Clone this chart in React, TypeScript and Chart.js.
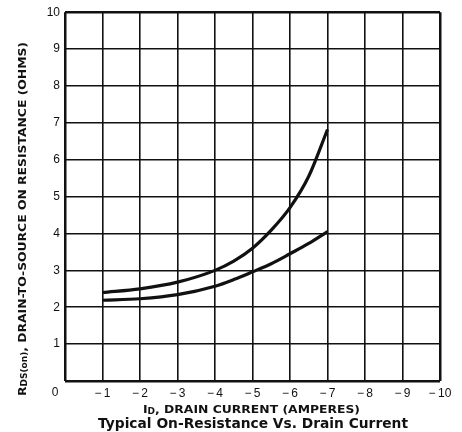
import React, { useEffect, useRef } from "react";
import { Chart, registerables } from "chart.js";

Chart.register(...registerables);

// Drain current (A)
const drainCurrent = [-1, -2, -3, -4, -4.5, -5, -5.5, -6, -6.5, -7];
// Upper curve RDS(on) (ohms)
const upperCurve = [2.4, 2.5, 2.68, 3.0, 3.25, 3.6, 4.09, 4.7, 5.55, 6.82];
// Lower curve RDS(on) (ohms)
const lowerCurve = [2.19, 2.23, 2.34, 2.57, 2.75, 2.96, 3.18, 3.45, 3.73, 4.05];

const xTickValues = [0, -1, -2, -3, -4, -5, -6, -7, -8, -9, -10];
const yTickValues = [0, 1, 2, 3, 4, 5, 6, 7, 8, 9, 10];

const xTitleMain = "I";
const xTitleSub = "D";
const xTitleRest = ", DRAIN CURRENT (AMPERES)";
const yTitleMain = "R";
const yTitleSub = "DS(on)";
const yTitleRest = ", DRAIN-TO-SOURCE ON RESISTANCE (OHMS)";
const chartTitle = "Typical On-Resistance Vs. Drain Current";

const FONT = "'Liberation Sans', Arial, Helvetica, sans-serif";
const TFONT = "'DejaVu Sans', 'Liberation Sans', sans-serif";
const INK = "#111";

function fmtTick(v: number): string {
  if (v === 0) return "";
  return v < 0 ? "\u2212\u2009" + Math.abs(v) : String(v);
}

function fitText(ctx: CanvasRenderingContext2D, text: string, width: number, x: number, y: number) {
  const w = ctx.measureText(text).width;
  ctx.save();
  ctx.translate(x, y);
  ctx.scale(width / w, 1);
  ctx.fillText(text, 0, 0);
  ctx.restore();
}

// Draws main + subscript + rest, stretched to the given length, starting at (0,0) of current transform
function drawSubTitle(
  ctx: CanvasRenderingContext2D,
  main: string,
  sub: string,
  rest: string,
  big: string,
  small: string,
  length: number
) {
  ctx.font = big;
  const a = ctx.measureText(main).width;
  const c = ctx.measureText(rest).width;
  ctx.font = small;
  const b = ctx.measureText(sub).width;
  const total = a + b + c;
  ctx.save();
  ctx.scale(length / total, 1);
  let p = 0;
  ctx.font = big;
  ctx.fillText(main, p, 0);
  p += a;
  ctx.font = small;
  ctx.fillText(sub, p, 1);
  p += b;
  ctx.font = big;
  ctx.fillText(rest, p, 0);
  ctx.restore();
}

const titlesPlugin = {
  id: "titles",
  afterDraw(chart: any) {
    const ctx = chart.ctx as CanvasRenderingContext2D;
    const area = chart.chartArea;
    const xs = chart.scales.x;
    ctx.save();
    ctx.fillStyle = INK;

    // origin label "0"
    ctx.font = `12px ${FONT}`;
    ctx.textAlign = "center";
    ctx.textBaseline = "middle";
    ctx.fillText("0", xs.getPixelForValue(0) - 10, area.bottom + 12);

    const bigX = `bold 11px ${TFONT}`;
    const smallX = `bold 8px ${TFONT}`;
    ctx.textAlign = "left";
    ctx.textBaseline = "alphabetic";

    // x axis title with subscript
    ctx.save();
    ctx.translate(143, 413);
    drawSubTitle(ctx, xTitleMain, xTitleSub, xTitleRest, bigX, smallX, 217);
    ctx.restore();

    // chart title
    ctx.font = `bold 13.5px ${TFONT}`;
    fitText(ctx, chartTitle, 310, 98, 428);

    // y axis title, rotated, with subscript
    ctx.save();
    ctx.translate(26, 396);
    ctx.rotate(-Math.PI / 2);
    drawSubTitle(ctx, yTitleMain, yTitleSub, yTitleRest, bigX, smallX, 354);
    ctx.restore();

    ctx.restore();
  },
};

export default function App() {
  const ref = useRef<HTMLCanvasElement | null>(null);

  useEffect(() => {
    if (!ref.current) return;
    const edgeWidth = (ctx: any, lo: number, hi: number) => {
      const v = ctx.tick ? ctx.tick.value : null;
      return v === lo || v === hi ? 2.5 : 1.6;
    };
    const chart = new Chart(ref.current, {
      type: "line",
      data: {
        datasets: [
          {
            label: "upper",
            data: drainCurrent.map((x, i) => ({ x, y: upperCurve[i] })),
            borderColor: INK,
            borderWidth: 3.2,
            pointRadius: 0,
            cubicInterpolationMode: "monotone",
            fill: false,
          },
          {
            label: "lower",
            data: drainCurrent.map((x, i) => ({ x, y: lowerCurve[i] })),
            borderColor: INK,
            borderWidth: 3.2,
            pointRadius: 0,
            cubicInterpolationMode: "monotone",
            fill: false,
          },
        ],
      },
      options: {
        animation: false,
        responsive: false,
        devicePixelRatio: 1,
        layout: { padding: { top: 10, right: 22, left: 0, bottom: 0 } },
        plugins: {
          legend: { display: false },
          tooltip: { enabled: false },
          title: { display: false },
        },
        scales: {
          x: {
            type: "linear",
            min: -10,
            max: 0,
            reverse: true,
            afterBuildTicks: (s: any) => {
              s.ticks = xTickValues.map((v) => ({ value: v }));
            },
            afterFit: (s: any) => {
              s.height = 51;
            },
            ticks: {
              autoSkip: false,
              maxRotation: 0,
              padding: 5,
              color: INK,
              font: { family: FONT, size: 12 },
              callback: (v: any) => fmtTick(Number(v)),
            },
            grid: {
              color: INK,
              drawTicks: false,
              lineWidth: (c: any) => edgeWidth(c, 0, -10),
            },
            border: { display: false },
          },
          y: {
            type: "linear",
            min: 0,
            max: 10,
            afterBuildTicks: (s: any) => {
              s.ticks = yTickValues.map((v) => ({ value: v }));
            },
            afterFit: (s: any) => {
              s.width = 65;
            },
            ticks: {
              autoSkip: false,
              padding: 5,
              color: INK,
              font: { family: FONT, size: 12 },
              callback: (v: any) => fmtTick(Number(v)),
            },
            grid: {
              color: INK,
              drawTicks: false,
              lineWidth: (c: any) => edgeWidth(c, 0, 10),
            },
            border: { display: false },
          },
        },
      },
      plugins: [titlesPlugin],
    } as any);
    return () => chart.destroy();
  }, []);

  return (
    <div
      style={{
        position: "fixed",
        left: 0,
        top: 0,
        width: 462,
        height: 432,
        background: "#fff",
      }}
    >
      <canvas ref={ref} width={462} height={432} />
    </div>
  );
}
